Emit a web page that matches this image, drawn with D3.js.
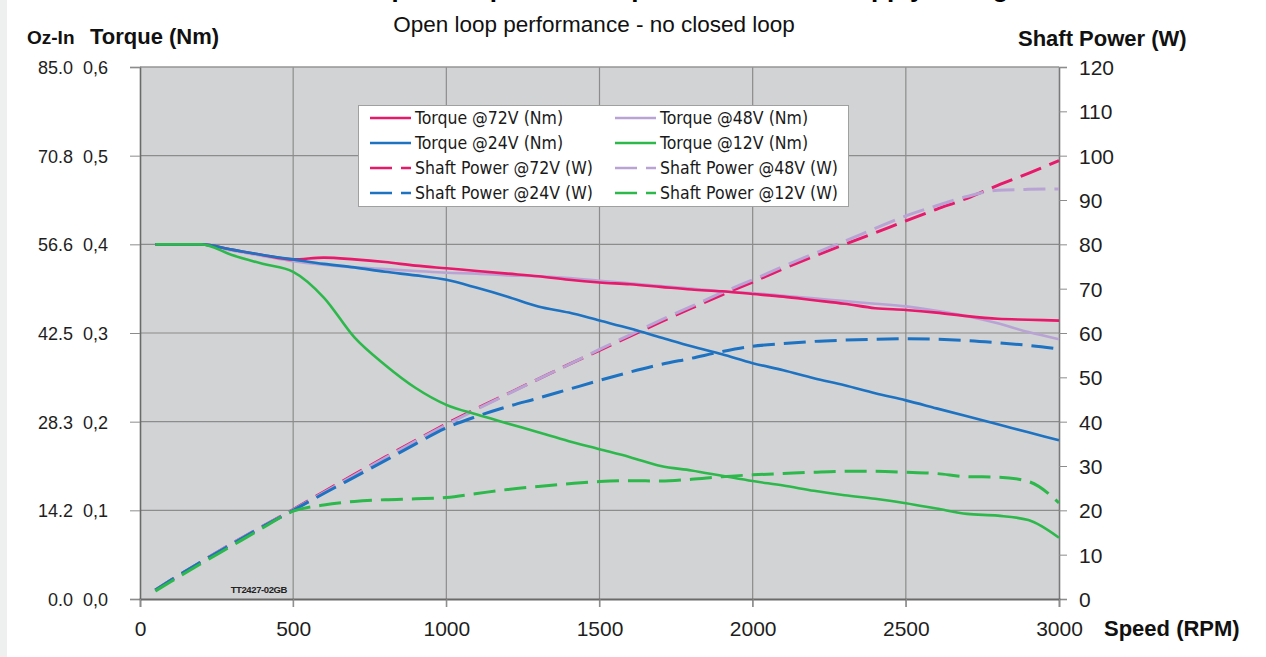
<!DOCTYPE html>
<html>
<head>
<meta charset="utf-8">
<script src="https://cdn.jsdelivr.net/npm/d3@7"></script>
<style>
  body { margin: 0; background: #fff; }
  svg { display: block; }
</style>
</head>
<body>
<script>
// speed points (RPM) shared by every series
const rpm = [50, 100, 200, 300, 400, 500, 600, 700, 800, 900, 1000, 1100, 1200, 1300, 1400, 1500,
  1600, 1700, 1800, 1900, 2000, 2100, 2200, 2300, 2400, 2500, 2600, 2700, 2800, 2900, 3000];

// torque (Nm)
const torque72 = [0.400, 0.400, 0.400, 0.394, 0.388, 0.383, 0.385, 0.383, 0.380, 0.376, 0.373, 0.370, 0.367, 0.364, 0.360, 0.357,
  0.355, 0.352, 0.349, 0.347, 0.344, 0.341, 0.337, 0.333, 0.328, 0.326, 0.323, 0.319, 0.316, 0.315, 0.314];
const torque48 = [0.400, 0.400, 0.400, 0.393, 0.387, 0.381, 0.377, 0.374, 0.372, 0.370, 0.368, 0.367, 0.365, 0.364, 0.362, 0.359,
  0.356, 0.353, 0.350, 0.347, 0.345, 0.342, 0.339, 0.336, 0.333, 0.330, 0.325, 0.319, 0.311, 0.301, 0.293];
const torque24 = [0.400, 0.400, 0.400, 0.394, 0.388, 0.383, 0.378, 0.374, 0.369, 0.365, 0.360, 0.351, 0.341, 0.330, 0.323, 0.314,
  0.305, 0.295, 0.285, 0.276, 0.266, 0.258, 0.249, 0.241, 0.232, 0.224, 0.215, 0.206, 0.197, 0.188, 0.179];
const torque12 = [0.400, 0.400, 0.400, 0.388, 0.378, 0.369, 0.340, 0.295, 0.264, 0.238, 0.219, 0.208, 0.198, 0.188, 0.178, 0.169,
  0.160, 0.150, 0.145, 0.139, 0.133, 0.128, 0.122, 0.117, 0.113, 0.108, 0.102, 0.096, 0.094, 0.089, 0.069];

// shaft power (W)
const power72 = [2.0, 4.2, 8.4, 12.5, 16.4, 20.2, 24.2, 28.1, 32.0, 35.8, 39.5, 43.0, 46.3, 49.6, 52.9, 56.1,
  59.3, 62.5, 65.6, 68.6, 71.5, 74.5, 77.3, 80.0, 82.6, 85.3, 87.9, 90.4, 93.3, 96.0, 98.9];
const power48 = [2.0, 4.2, 8.4, 12.5, 16.4, 20.1, 24.0, 27.9, 31.8, 35.6, 39.3, 42.8, 46.2, 49.6, 52.9, 56.3,
  59.6, 62.9, 66.0, 69.1, 72.0, 75.0, 77.9, 80.7, 83.6, 86.4, 88.7, 90.8, 92.2, 92.4, 92.5];
const power24 = [2.0, 4.2, 8.4, 12.4, 16.3, 20.0, 23.8, 27.5, 31.2, 35.0, 38.6, 41.2, 43.4, 45.3, 47.3, 49.3,
  51.2, 52.9, 54.3, 55.8, 57.0, 57.6, 58.1, 58.4, 58.6, 58.7, 58.6, 58.3, 57.8, 57.2, 56.4];
const power12 = [1.8, 3.9, 8.0, 12.0, 16.0, 19.8, 21.2, 22.0, 22.4, 22.6, 22.9, 23.8, 24.7, 25.4, 26.0, 26.5,
  26.7, 26.6, 27.0, 27.6, 28.0, 28.3, 28.6, 28.8, 28.8, 28.6, 28.3, 27.6, 27.5, 26.5, 21.7];

// axis tick labels
const speedTicks = [0, 500, 1000, 1500, 2000, 2500, 3000];
const torqueTicks = [0, 0.1, 0.2, 0.3, 0.4, 0.5, 0.6];
const torqueLabels = ["0,0", "0,1", "0,2", "0,3", "0,4", "0,5", "0,6"];
const ozInLabels = ["0.0", "14.2", "28.3", "42.5", "56.6", "70.8", "85.0"];
const powerTicks = [0, 10, 20, 30, 40, 50, 60, 70, 80, 90, 100, 110, 120];

const colors = {v72: "#e8186a", v48: "#b8a3d4", v24: "#1d72c2", v12: "#2db84b"};

const series = [
  {name: "Shaft Power @72V (W)", vals: power72, color: colors.v72, axis: "p", dash: true},
  {name: "Shaft Power @48V (W)", vals: power48, color: colors.v48, axis: "p", dash: true},
  {name: "Shaft Power @24V (W)", vals: power24, color: colors.v24, axis: "p", dash: true},
  {name: "Shaft Power @12V (W)", vals: power12, color: colors.v12, axis: "p", dash: true},
  {name: "Torque @48V (Nm)", vals: torque48, color: colors.v48, axis: "t", dash: false},
  {name: "Torque @72V (Nm)", vals: torque72, color: colors.v72, axis: "t", dash: false},
  {name: "Torque @24V (Nm)", vals: torque24, color: colors.v24, axis: "t", dash: false},
  {name: "Torque @12V (Nm)", vals: torque12, color: colors.v12, axis: "t", dash: false}
];

const legendOrder = [
  "Torque @72V (Nm)", "Torque @48V (Nm)",
  "Torque @24V (Nm)", "Torque @12V (Nm)",
  "Shaft Power @72V (W)", "Shaft Power @48V (W)",
  "Shaft Power @24V (W)", "Shaft Power @12V (W)"
];

const W = 1266, H = 657;
const plot = {left: 140, right: 1059, top: 67, bottom: 599};

const svg = d3.select("body").append("svg")
  .attr("width", W)
  .attr("height", H);

svg.append("rect").attr("x", 0).attr("y", 0).attr("width", 7).attr("height", H).attr("fill", "#eef0f0");

const x = d3.scaleLinear().domain([0, 3000]).range([plot.left, plot.right]);
const yT = d3.scaleLinear().domain([0, 0.6]).range([plot.bottom, plot.top]);
const yP = d3.scaleLinear().domain([0, 120]).range([plot.bottom, plot.top]);

// plot background
svg.append("rect")
  .attr("x", plot.left).attr("y", plot.top)
  .attr("width", plot.right - plot.left).attr("height", plot.bottom - plot.top)
  .attr("fill", "#d2d3d5");

// grid
svg.append("g").selectAll("line")
  .data(torqueTicks.slice(1))
  .join("line")
  .attr("x1", plot.left).attr("x2", plot.right)
  .attr("y1", d => yT(d)).attr("y2", d => yT(d))
  .attr("stroke", "#8c8c8c").attr("stroke-width", 1.2);

svg.append("g").selectAll("line")
  .data(speedTicks.slice(1, -1))
  .join("line")
  .attr("x1", d => x(d)).attr("x2", d => x(d))
  .attr("y1", plot.top).attr("y2", plot.bottom + 8)
  .attr("stroke", "#8c8c8c").attr("stroke-width", 1.2);

// axes
const tickFont = "'Liberation Sans', Arial, sans-serif";

const leftAxis = svg.append("g")
  .attr("transform", "translate(" + plot.left + ",0)")
  .call(d3.axisLeft(yT).tickValues(torqueTicks).tickSize(10).tickPadding(22)
    .tickFormat((d, i) => torqueLabels[i]));
leftAxis.select(".domain").attr("stroke", "#6a6a6a").attr("stroke-width", 1.6);
leftAxis.selectAll(".tick line").attr("stroke", "#8c8c8c");
leftAxis.selectAll(".tick text")
  .attr("font-family", tickFont).attr("font-size", 18).attr("fill", "#1e1e1e").attr("dy", "0.36em");

const ozAxis = svg.append("g")
  .attr("transform", "translate(" + plot.left + ",0)")
  .call(d3.axisLeft(yT).tickValues(torqueTicks).tickSize(0).tickPadding(67)
    .tickFormat((d, i) => ozInLabels[i]));
ozAxis.select(".domain").remove();
ozAxis.selectAll(".tick text")
  .attr("font-family", tickFont).attr("font-size", 18).attr("fill", "#1e1e1e").attr("dy", "0.36em");

const rightAxis = svg.append("g")
  .attr("transform", "translate(" + plot.right + ",0)")
  .call(d3.axisRight(yP).tickValues(powerTicks).tickSize(8).tickPadding(12).tickFormat(d3.format("d")));
rightAxis.select(".domain").attr("stroke", "#7a7a7a").attr("stroke-width", 1.6);
rightAxis.selectAll(".tick line").attr("stroke", "#8c8c8c");
rightAxis.selectAll(".tick text")
  .attr("font-family", tickFont).attr("font-size", 21).attr("fill", "#1e1e1e").attr("dy", "0.36em");

const bottomAxis = svg.append("g")
  .attr("transform", "translate(0," + plot.bottom + ")")
  .call(d3.axisBottom(x).tickValues(speedTicks).tickSize(8).tickPadding(14).tickFormat(d3.format("d")));
bottomAxis.select(".domain").attr("stroke", "#6a6a6a").attr("stroke-width", 1.8);
bottomAxis.selectAll(".tick line").attr("stroke", "#8c8c8c");
bottomAxis.selectAll(".tick text")
  .attr("font-family", tickFont).attr("font-size", 21).attr("fill", "#1e1e1e");

// top border of plot
svg.append("line")
  .attr("x1", plot.left).attr("x2", plot.right)
  .attr("y1", plot.top).attr("y2", plot.top)
  .attr("stroke", "#9a9a9a").attr("stroke-width", 1);

// lines
const lineT = d3.line().x((d, i) => x(rpm[i])).y(d => yT(d)).curve(d3.curveMonotoneX);
const lineP = d3.line().x((d, i) => x(rpm[i])).y(d => yP(d)).curve(d3.curveMonotoneX);

svg.append("g").selectAll("path")
  .data(series)
  .join("path")
  .attr("d", d => (d.axis === "t" ? lineT : lineP)(d.vals))
  .attr("fill", "none")
  .attr("stroke", d => d.color)
  .attr("stroke-width", d => d.dash ? 3 : 2.6)
  .attr("stroke-dasharray", d => d.dash ? "22,9" : null);

// legend
const legend = svg.append("g");
legend.append("rect")
  .attr("x", 358.5).attr("y", 105.5).attr("width", 490).attr("height", 101)
  .attr("fill", "#fff").attr("stroke", "#a0a0a0");

const legendItems = legend.selectAll("g.item")
  .data(legendOrder.map(n => series.find(s => s.name === n)))
  .join("g")
  .attr("class", "item")
  .attr("transform", (d, i) => "translate(" + (i % 2 === 0 ? 370 : 615) + "," + (118 + Math.floor(i / 2) * 25) + ")");

legendItems.append("line")
  .attr("x1", 0).attr("x2", 41).attr("y1", 0).attr("y2", 0)
  .attr("stroke", d => d.color)
  .attr("stroke-width", 2.6)
  .attr("stroke-dasharray", d => d.dash ? "22,9" : null);

legendItems.append("text")
  .attr("x", 45).attr("y", 0).attr("dy", "0.35em")
  .attr("font-family", "'DejaVu Sans Condensed', 'DejaVu Sans', sans-serif")
  .attr("font-stretch", "condensed")
  .attr("font-size", 17.5)
  .attr("fill", "#1a1a1a")
  .text(d => d.name);

// titles (the main title sits mostly above the top edge, as in the source)
svg.append("text")
  .attr("x", 690).attr("y", -3)
  .attr("text-anchor", "middle")
  .attr("font-family", tickFont).attr("font-weight", "bold").attr("font-size", 26)
  .text("Torque and power vs. speed at different supply voltages");

svg.append("text")
  .attr("x", 594).attr("y", 32)
  .attr("text-anchor", "middle")
  .attr("font-family", tickFont).attr("font-size", 22.5).attr("fill", "#111")
  .text("Open loop performance - no closed loop");

const boldLabel = (txt, xx, yy, size, anchor) => svg.append("text")
  .attr("x", xx).attr("y", yy)
  .attr("text-anchor", anchor || "start")
  .attr("font-family", tickFont).attr("font-weight", "bold").attr("font-size", size).attr("fill", "#111")
  .text(txt);

boldLabel("Oz-In", 27, 44, 19);
boldLabel("Torque (Nm)", 90, 44, 22);
boldLabel("Shaft Power (W)", 1018, 46, 22);
boldLabel("Speed (RPM)", 1104, 636, 22);

svg.append("text")
  .attr("x", 287).attr("y", 593)
  .attr("text-anchor", "end")
  .attr("font-family", tickFont).attr("font-weight", "bold").attr("font-size", 9.5)
  .attr("letter-spacing", -0.4)
  .attr("fill", "#222")
  .text("TT2427-02GB");
</script>
</body>
</html>
